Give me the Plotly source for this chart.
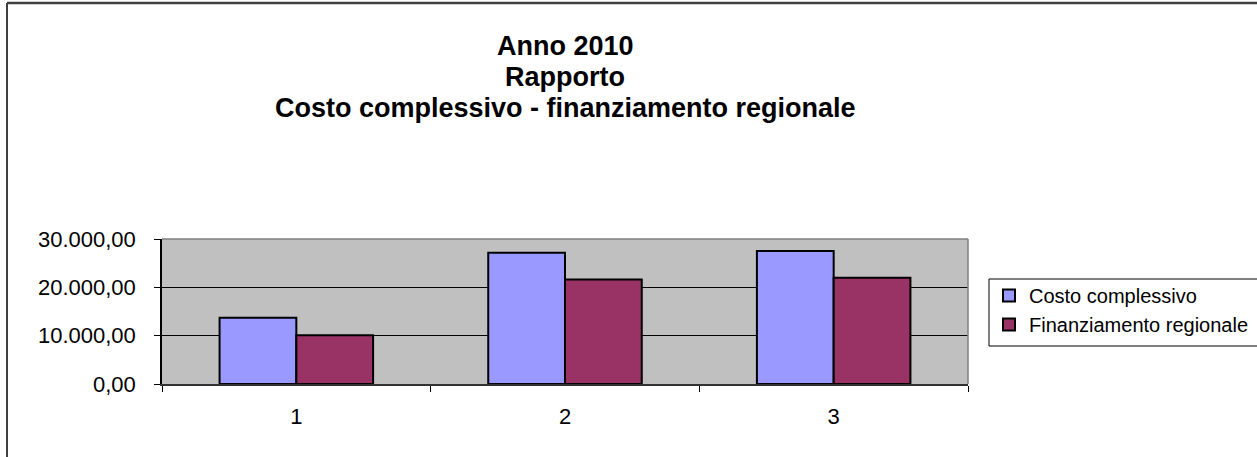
import plotly.graph_objects as go

categorie = ["1", "2", "3"]
costo_complessivo = [13700, 27150, 27500]
finanziamento_regionale = [10100, 21600, 22000]
titolo = ["Anno 2010", "Rapporto", "Costo complessivo - finanziamento regionale"]

W, H = 1257, 457
L, R, T, B = 162, 968, 239, 384  # plot area in pixels
FONT = "Arial, Liberation Sans, sans-serif"


def px_x(x):
    return (x - L) / (R - L)


def px_y(y):
    return (B - y) / (B - T)


fig = go.Figure()
fig.add_trace(go.Bar(
    x=categorie, y=costo_complessivo, name="Costo complessivo",
    marker=dict(color="#9999FF", line=dict(color="black", width=2)),
))
fig.add_trace(go.Bar(
    x=categorie, y=finanziamento_regionale, name="Finanziamento regionale",
    marker=dict(color="#993366", line=dict(color="black", width=2)),
))

# title lines
for testo, yc in zip(titolo, [46, 77, 108]):
    fig.add_annotation(
        text=f"<b>{testo}</b>", x=0.5, y=px_y(yc), xref="paper", yref="paper",
        xanchor="center", yanchor="middle", showarrow=False,
        font=dict(family=FONT, size=27, color="black"),
    )

# plot area border (top/right, grey) and chart border (left/top)
fig.add_shape(type="line", xref="paper", yref="paper", x0=0, x1=1, y0=1, y1=1,
              line=dict(color="#808080", width=1.5), layer="above")
fig.add_shape(type="line", xref="paper", yref="paper", x0=1, x1=1, y0=0, y1=1,
              line=dict(color="#808080", width=1.5), layer="above")
fig.add_shape(type="line", xref="paper", yref="paper",
              x0=px_x(7), x1=px_x(7), y0=px_y(H + 5), y1=px_y(3),
              line=dict(color="black", width=1.5), layer="above")
fig.add_shape(type="line", xref="paper", yref="paper",
              x0=px_x(7), x1=px_x(W + 5), y0=px_y(3), y1=px_y(3),
              line=dict(color="#404040", width=2.5), layer="above")
# legend frame (runs off the right edge as in the original)
fig.add_shape(type="rect", xref="paper", yref="paper",
              x0=px_x(989), x1=px_x(W + 10), y0=px_y(346), y1=px_y(279),
              line=dict(color="black", width=1), fillcolor="white", layer="below")

fig.update_layout(
    width=W, height=H,
    margin=dict(l=L, r=W - R, t=T, b=H - B, pad=0, autoexpand=False),
    paper_bgcolor="white", plot_bgcolor="#C0C0C0",
    separators=",.",
    barmode="group", bargap=0.4286, bargroupgap=0,
    font=dict(family=FONT, size=22, color="black"),
    showlegend=True,
    legend=dict(
        x=px_x(989), y=px_y(276), xanchor="left", yanchor="top",
        borderwidth=0, bgcolor="rgba(0,0,0,0)",
        font=dict(family=FONT, size=20, color="black"),
        itemwidth=30, tracegroupgap=0,
    ),
)
fig.update_yaxes(
    range=[0, 30000], dtick=10000, tickformat=",.2f",
    showgrid=True, gridcolor="black", gridwidth=1,
    showline=True, linecolor="black", linewidth=1.5,
    ticks="outside", ticklen=6, tickcolor="black",
    zeroline=False, tickfont=dict(size=22), ticklabelstandoff=14,
)
fig.update_xaxes(
    type="category", tickson="boundaries",
    showline=True, linecolor="#333333", linewidth=2,
    ticks="outside", ticklen=6, tickcolor="black",
    showgrid=False, tickfont=dict(size=22), ticklabelstandoff=12,
)

fig.write_html(
    "out.html",
    config={"displayModeBar": False},
    post_script="document.body.style.margin='0px';",
)
